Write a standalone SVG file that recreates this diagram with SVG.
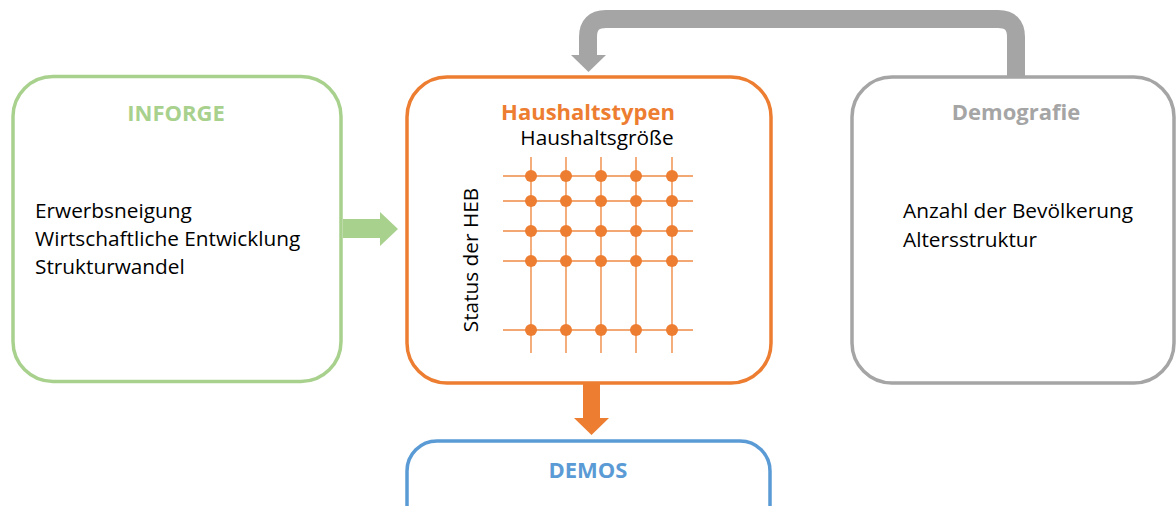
<svg xmlns="http://www.w3.org/2000/svg" width="1176" height="506" viewBox="0 0 1176 506">
<style>
.box{fill:#fff;stroke-width:3.5}
.t{font-family:"Open Sans","Liberation Sans",sans-serif;font-size:20.8px;fill:#000}
.h{font-family:"Open Sans","Liberation Sans",sans-serif;font-size:22px;font-weight:bold;text-anchor:middle}
.gl{stroke:#F08A45;stroke-width:1.4;fill:none}
.dot{fill:#ED7D31}
</style>
<rect width="1176" height="506" fill="#fff"/>
<g id="connectors">
<path d="M1016,80 V37 Q1016,19 998,19 H606 Q588,19 588,37 V56" fill="none" stroke="#A5A5A5" stroke-width="18"/>
<polygon points="571,55 606,55 588.5,72" fill="#A5A5A5"/>
<polygon points="343,219 380,219 380,212 398,229 380,246 380,238 343,238" fill="#A9D18E"/>
<polygon points="583,383 600,383 600,418 609,418 591.5,435 574,418 583,418" fill="#ED7D31"/>
</g>
<g id="inforge">
<rect class="box" x="13" y="76.5" width="328" height="305" rx="40" stroke="#A9D18E"/>
<text class="h" x="176" y="121" fill="#A9D18E">INFORGE</text>
<text class="t" x="35" y="218">Erwerbsneigung</text>
<text class="t" x="35" y="246">Wirtschaftliche Entwicklung</text>
<text class="t" x="35" y="274">Strukturwandel</text>
</g>
<g id="haushaltstypen">
<rect class="box" x="407" y="77" width="364" height="306" rx="40" stroke="#ED7D31"/>
<text class="h" x="588" y="120" fill="#ED7D31">Haushaltstypen</text>
<text class="t" x="597" y="145" text-anchor="middle">Haushaltsgröße</text>
<text class="t" transform="translate(478,260) rotate(-90)" text-anchor="middle">Status der HEB</text>
<g id="grid">
<path class="gl" d="M531,157V353 M566,157V353 M601,157V353 M636,157V353 M672,157V353 M503,176H693 M503,201H693 M503,231H693 M503,261H693 M503,330H693"/>
<g class="dot">
<circle cx="531" cy="176" r="6"/><circle cx="566" cy="176" r="6"/><circle cx="601" cy="176" r="6"/><circle cx="636" cy="176" r="6"/><circle cx="672" cy="176" r="6"/>
<circle cx="531" cy="201" r="6"/><circle cx="566" cy="201" r="6"/><circle cx="601" cy="201" r="6"/><circle cx="636" cy="201" r="6"/><circle cx="672" cy="201" r="6"/>
<circle cx="531" cy="231" r="6"/><circle cx="566" cy="231" r="6"/><circle cx="601" cy="231" r="6"/><circle cx="636" cy="231" r="6"/><circle cx="672" cy="231" r="6"/>
<circle cx="531" cy="261" r="6"/><circle cx="566" cy="261" r="6"/><circle cx="601" cy="261" r="6"/><circle cx="636" cy="261" r="6"/><circle cx="672" cy="261" r="6"/>
<circle cx="531" cy="330" r="6"/><circle cx="566" cy="330" r="6"/><circle cx="601" cy="330" r="6"/><circle cx="636" cy="330" r="6"/><circle cx="672" cy="330" r="6"/>
</g>
</g>
</g>
<g id="demografie">
<rect class="box" x="852" y="77" width="322" height="306" rx="40" stroke="#A5A5A5"/>
<text class="h" x="1016" y="120" fill="#A5A5A5">Demografie</text>
<text class="t" x="903" y="218">Anzahl der Bevölkerung</text>
<text class="t" x="903" y="247">Altersstruktur</text>
</g>
<g id="demos">
<rect class="box" x="407" y="441" width="363" height="100" rx="30" stroke="#5B9BD5"/>
<text class="h" x="588" y="478" fill="#5B9BD5">DEMOS</text>
</g>
</svg>
